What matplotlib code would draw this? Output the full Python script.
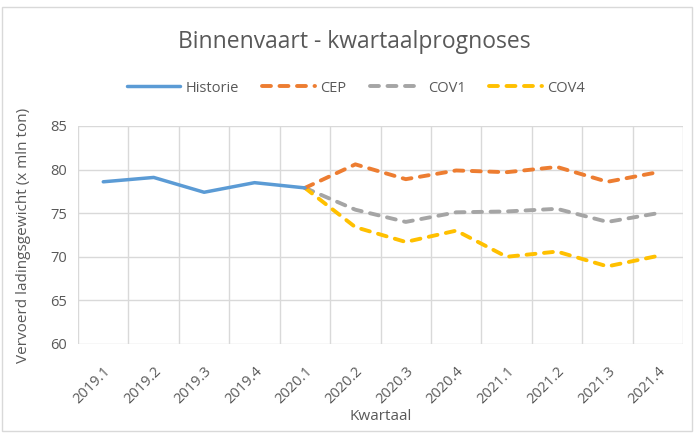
import matplotlib
matplotlib.use("Agg")
import matplotlib.pyplot as plt
import numpy as np
from matplotlib.patches import Rectangle

plt.rcParams['font.family'] = ['Open Sans', 'DejaVu Sans']

quarters = ["2019.1", "2019.2", "2019.3", "2019.4", "2020.1", "2020.2",
            "2020.3", "2020.4", "2021.1", "2021.2", "2021.3", "2021.4"]
historie = [78.6, 79.1, 77.4, 78.5, 77.9]
cep = [77.9, 80.6, 78.9, 79.9, 79.7, 80.3, 78.6, 79.7]
cov1 = [77.9, 75.4, 74.0, 75.1, 75.2, 75.5, 74.0, 75.0]
cov4 = [77.9, 73.4, 71.7, 73.0, 70.0, 70.6, 68.9, 70.1]
yticks = [60, 65, 70, 75, 80, 85]

txt = '#595959'
fig = plt.figure(figsize=(6.97, 4.34), dpi=100)
ax = fig.add_axes([0.112, 0.2074, 0.868, 0.5023])

x_hist = np.arange(len(historie))
x_fc = np.arange(len(historie) - 1, len(quarters))
lw = 2.8
dash = (2.3, 2.2)
ax.plot(x_hist, historie, color='#5B9BD5', lw=2.5, label='Historie', solid_capstyle='round', zorder=5)
ax.plot(x_fc, cep, color='#ED7D31', lw=lw, dashes=dash, dash_capstyle='round', label='CEP', zorder=4)
ax.plot(x_fc, cov1, color='#A5A5A5', lw=lw, dashes=dash, dash_capstyle='round', label='COV1', zorder=3)
ax.plot(x_fc, cov4, color='#FFC000', lw=lw, dashes=dash, dash_capstyle='round', label='COV4', zorder=3)

ax.set_xlim(-0.5, len(quarters) - 0.5)
ax.set_ylim(60, 85)
ax.set_yticks(yticks)
ax.set_xticks(np.arange(len(quarters)))
ax.set_xticklabels(quarters, rotation=45, ha='right', rotation_mode='anchor')
ax.set_xticks(np.arange(-0.5, len(quarters)), minor=True)
ax.tick_params(axis='both', which='both', length=0, labelsize=10.5, labelcolor=txt)
ax.tick_params(axis='x', pad=14)
ax.tick_params(axis='y', pad=8)
ax.grid(True, axis='y', color='#D9D9D9', lw=1)
ax.grid(True, axis='x', which='minor', color='#D9D9D9', lw=1)
ax.grid(False, axis='x', which='major')
for s in ax.spines.values():
    s.set_visible(False)

ax.set_xlabel('Kwartaal', fontsize=11, color=txt, labelpad=2)
ax.set_ylabel('Vervoerd ladingsgewicht (x mln ton)', fontsize=11, color=txt, labelpad=14)

fig.text(0.508, 0.903, 'Binnenvaart - kwartaalprognoses', ha='center', va='center',
         fontsize=16.5, color=txt)
leg = fig.legend(loc='center', bbox_to_anchor=(0.511, 0.797), ncol=4, frameon=False,
                 fontsize=10.5, handlelength=3.6, columnspacing=1.6, handletextpad=0.4)
for t in leg.get_texts():
    t.set_color(txt)

fig.add_artist(Rectangle((0.003, 0.008), 0.99, 0.975, transform=fig.transFigure,
                         fill=False, edgecolor='#D9D9D9', lw=1))

fig.savefig('out.png', dpi=100)
